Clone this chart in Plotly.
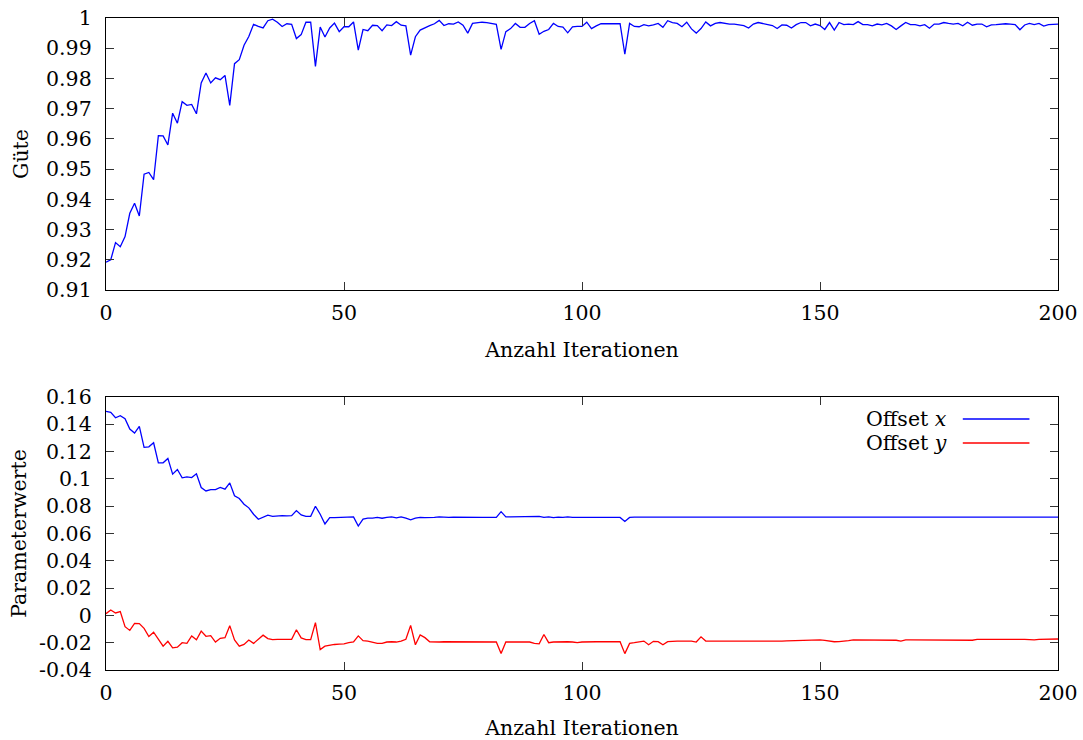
import plotly.graph_objects as go

# Iteration index
iterations = list(range(201))

# Quality ("Güte") per iteration
guete = [
    0.9192, 0.9200, 0.9257, 0.9243, 0.9277, 0.9354, 0.9387, 0.9345, 0.9483, 0.9489,
    0.9465, 0.9611, 0.9610, 0.9580, 0.9685, 0.9652, 0.9723, 0.9711, 0.9714, 0.9683,
    0.9785, 0.9818, 0.9785, 0.9802, 0.9796, 0.9810, 0.9711, 0.9849, 0.9862, 0.9910,
    0.9939, 0.9979, 0.9972, 0.9967, 0.9991, 0.9996, 0.9986, 0.9972, 0.9981, 0.9979,
    0.9932, 0.9945, 0.9986, 0.9986, 0.9840, 0.9970, 0.9937, 0.9967, 0.9983, 0.9955,
    0.9971, 0.9971, 0.9987, 0.9894, 0.9962, 0.9958, 0.9976, 0.9975, 0.9958, 0.9977,
    0.9975, 0.9988, 0.9976, 0.9974, 0.9877, 0.9938, 0.9960, 0.9968, 0.9975, 0.9981,
    0.9992, 0.9975, 0.9981, 0.9980, 0.9987, 0.9976, 0.9950, 0.9982, 0.9985, 0.9986,
    0.9985, 0.9983, 0.9979, 0.9896, 0.9955, 0.9965, 0.9982, 0.9969, 0.9969, 0.9982,
    0.9991, 0.9946, 0.9956, 0.9962, 0.9982, 0.9972, 0.9970, 0.9951, 0.9971, 0.9972,
    0.9972, 0.9986, 0.9965, 0.9974, 0.9981, 0.9981, 0.9981, 0.9981, 0.9981, 0.9880,
    0.9982, 0.9972, 0.9971, 0.9978, 0.9974, 0.9977, 0.9982, 0.9969, 0.9991, 0.9985,
    0.9982, 0.9971, 0.9986, 0.9964, 0.9950, 0.9965, 0.9987, 0.9974, 0.9982, 0.9985,
    0.9982, 0.9980, 0.9980, 0.9978, 0.9975, 0.9967, 0.9980, 0.9985, 0.9982, 0.9978,
    0.9975, 0.9965, 0.9977, 0.9976, 0.9967, 0.9978, 0.9985, 0.9985, 0.9974, 0.9980,
    0.9975, 0.9962, 0.9985, 0.9960, 0.9985, 0.9978, 0.9980, 0.9978, 0.9988, 0.9978,
    0.9978, 0.9974, 0.9980, 0.9977, 0.9982, 0.9974, 0.9962, 0.9974, 0.9985, 0.9978,
    0.9978, 0.9974, 0.9978, 0.9966, 0.9980, 0.9980, 0.9985, 0.9982, 0.9980, 0.9982,
    0.9974, 0.9986, 0.9976, 0.9980, 0.9980, 0.9971, 0.9977, 0.9978, 0.9980, 0.9981,
    0.9980, 0.9978, 0.9961, 0.9977, 0.9982, 0.9978, 0.9982, 0.9973, 0.9978, 0.9979,
    0.9980,
]

# Parameter "Offset x" per iteration
offset_x = [
    0.1495, 0.1487, 0.1448, 0.1463, 0.1441, 0.1365, 0.1336, 0.1385, 0.1231, 0.1235,
    0.1265, 0.1118, 0.1118, 0.1150, 0.1035, 0.1069, 0.1008, 0.1015, 0.1010, 0.1037,
    0.0937, 0.0912, 0.0922, 0.0922, 0.0937, 0.0925, 0.0971, 0.0876, 0.0856, 0.0815,
    0.0788, 0.0741, 0.0704, 0.0722, 0.0734, 0.0726, 0.0731, 0.0731, 0.0729, 0.0731,
    0.0768, 0.0736, 0.0726, 0.0726, 0.0800, 0.0741, 0.0670, 0.0717, 0.0717, 0.0718,
    0.0718, 0.0720, 0.0722, 0.0655, 0.0705, 0.0712, 0.0712, 0.0718, 0.0712, 0.0718,
    0.0722, 0.0714, 0.0722, 0.0712, 0.0700, 0.0712, 0.0718, 0.0716, 0.0715, 0.0718,
    0.0722, 0.0718, 0.0718, 0.0719, 0.0718, 0.0718, 0.0719, 0.0718, 0.0718, 0.0718,
    0.0718, 0.0718, 0.0718, 0.0760, 0.0722, 0.0722, 0.0722, 0.0722, 0.0722, 0.0722,
    0.0724, 0.0726, 0.0718, 0.0722, 0.0716, 0.0720, 0.0718, 0.0722, 0.0718, 0.0718,
    0.0718, 0.0718, 0.0718, 0.0718, 0.0718, 0.0718, 0.0718, 0.0718, 0.0718, 0.0688,
    0.0718, 0.0720, 0.0720, 0.0720, 0.0720, 0.0720, 0.0720, 0.0720, 0.0720, 0.0720,
    0.0720, 0.0720, 0.0720, 0.0720, 0.0720, 0.0720, 0.0720, 0.0720, 0.0720, 0.0720,
    0.0720, 0.0720, 0.0720, 0.0720, 0.0720, 0.0720, 0.0720, 0.0720, 0.0720, 0.0720,
    0.0720, 0.0722, 0.0720, 0.0718, 0.0718, 0.0720, 0.0720, 0.0720, 0.0720, 0.0718,
    0.0720, 0.0718, 0.0720, 0.0719, 0.0720, 0.0720, 0.0720, 0.0720, 0.0720, 0.0720,
    0.0720, 0.0720, 0.0720, 0.0721, 0.0720, 0.0720, 0.0720, 0.0720, 0.0720, 0.0720,
    0.0720, 0.0720, 0.0720, 0.0720, 0.0720, 0.0720, 0.0720, 0.0720, 0.0720, 0.0720,
    0.0720, 0.0720, 0.0720, 0.0720, 0.0720, 0.0720, 0.0720, 0.0720, 0.0720, 0.0720,
    0.0720, 0.0720, 0.0720, 0.0721, 0.0720, 0.0720, 0.0720, 0.0720, 0.0720, 0.0720,
    0.0720,
]

# Parameter "Offset y" per iteration
offset_y = [
    0.0013, 0.0040, 0.0018, 0.0028, -0.0083, -0.0110, -0.0058, -0.0060, -0.0095, -0.0155,
    -0.0123, -0.0175, -0.0225, -0.0190, -0.0238, -0.0233, -0.0200, -0.0205, -0.0150, -0.0178,
    -0.0115, -0.0153, -0.0148, -0.0195, -0.0168, -0.0163, -0.0075, -0.0180, -0.0225, -0.0213,
    -0.0180, -0.0205, -0.0175, -0.0145, -0.0170, -0.0178, -0.0175, -0.0175, -0.0176, -0.0175,
    -0.0105, -0.0165, -0.0178, -0.0178, -0.0053, -0.0250, -0.0225, -0.0218, -0.0213, -0.0210,
    -0.0208, -0.0200, -0.0195, -0.0150, -0.0185, -0.0188, -0.0195, -0.0205, -0.0205, -0.0195,
    -0.0193, -0.0195, -0.0188, -0.0175, -0.0073, -0.0215, -0.0143, -0.0163, -0.0193, -0.0195,
    -0.0195, -0.0193, -0.0193, -0.0193, -0.0192, -0.0193, -0.0193, -0.0192, -0.0193, -0.0193,
    -0.0193, -0.0195, -0.0195, -0.0280, -0.0195, -0.0195, -0.0195, -0.0195, -0.0195, -0.0195,
    -0.0205, -0.0208, -0.0140, -0.0200, -0.0195, -0.0193, -0.0195, -0.0193, -0.0195, -0.0200,
    -0.0195, -0.0193, -0.0193, -0.0193, -0.0193, -0.0193, -0.0193, -0.0193, -0.0193, -0.0280,
    -0.0205, -0.0200, -0.0195, -0.0188, -0.0215, -0.0190, -0.0192, -0.0215, -0.0192, -0.0188,
    -0.0188, -0.0188, -0.0188, -0.0188, -0.0195, -0.0157, -0.0188, -0.0188, -0.0188, -0.0188,
    -0.0188, -0.0188, -0.0188, -0.0188, -0.0188, -0.0188, -0.0188, -0.0188, -0.0188, -0.0188,
    -0.0188, -0.0192, -0.0188, -0.0186, -0.0185, -0.0183, -0.0183, -0.0180, -0.0182, -0.0183,
    -0.0180, -0.0183, -0.0190, -0.0193, -0.0192, -0.0190, -0.0185, -0.0180, -0.0180, -0.0180,
    -0.0180, -0.0182, -0.0182, -0.0182, -0.0182, -0.0182, -0.0182, -0.0188, -0.0180, -0.0180,
    -0.0180, -0.0180, -0.0180, -0.0180, -0.0180, -0.0180, -0.0180, -0.0180, -0.0180, -0.0180,
    -0.0180, -0.0177, -0.0182, -0.0175, -0.0177, -0.0177, -0.0176, -0.0176, -0.0175, -0.0175,
    -0.0175, -0.0175, -0.0175, -0.0175, -0.0177, -0.0180, -0.0175, -0.0175, -0.0174, -0.0174,
    -0.0173,
]

x_ticks = [0, 50, 100, 150, 200]
guete_ticks = [0.91, 0.92, 0.93, 0.94, 0.95, 0.96, 0.97, 0.98, 0.99, 1.0]
guete_tick_labels = ["0.91", "0.92", "0.93", "0.94", "0.95", "0.96", "0.97", "0.98", "0.99", "1"]
param_ticks = [-0.04, -0.02, 0, 0.02, 0.04, 0.06, 0.08, 0.1, 0.12, 0.14, 0.16]
param_tick_labels = ["-0.04", "-0.02", "0", "0.02", "0.04", "0.06", "0.08", "0.1", "0.12", "0.14", "0.16"]

FONT = "'DejaVu Serif', 'Liberation Serif', serif"
FS = 20.5
BLUE = "#0000ff"
RED = "#ff0000"

fig = go.Figure()
fig.add_trace(go.Scatter(x=iterations, y=guete, mode="lines",
                         line=dict(color=BLUE, width=1.3), xaxis="x", yaxis="y",
                         showlegend=False))
fig.add_trace(go.Scatter(x=iterations, y=offset_x, mode="lines", name="Offset x",
                         line=dict(color=BLUE, width=1.3), xaxis="x2", yaxis="y2",
                         showlegend=False))
fig.add_trace(go.Scatter(x=iterations, y=offset_y, mode="lines", name="Offset y",
                         line=dict(color=RED, width=1.3), xaxis="x2", yaxis="y2",
                         showlegend=False))

axis_common = dict(
    showline=True, linecolor="black", linewidth=1.4, mirror="ticks",
    ticks="inside", ticklen=8, tickwidth=1.2, tickcolor="#333333",
    showgrid=False, zeroline=False, automargin=False,
    tickfont=dict(family=FONT, size=FS, color="black"),
)

fig.update_layout(
    width=1083, height=740,
    margin=dict(l=106, r=25, t=18, b=70),
    paper_bgcolor="white", plot_bgcolor="white",
    font=dict(family=FONT, size=FS, color="black"),
    xaxis=dict(domain=[0, 1], range=[0, 200], tickvals=x_ticks, anchor="y",
               ticklabelstandoff=4,
               title=dict(text="Anzahl Iterationen", standoff=18,
                          font=dict(family=FONT, size=FS)),
               **axis_common),
    yaxis=dict(domain=[0.5828, 1], range=[0.91, 1.0], tickvals=guete_ticks,
               ticktext=guete_tick_labels, anchor="x", ticklabelstandoff=9,
               title=dict(text="Güte", standoff=11, font=dict(family=FONT, size=FS)),
               **axis_common),
    xaxis2=dict(domain=[0, 1], range=[0, 200], tickvals=x_ticks, anchor="y2",
                ticklabelstandoff=4,
                title=dict(text="Anzahl Iterationen", standoff=18,
                           font=dict(family=FONT, size=FS)),
                **axis_common),
    yaxis2=dict(domain=[0, 0.4187], range=[-0.04, 0.16], tickvals=param_ticks,
                ticktext=param_tick_labels, anchor="x2", ticklabelstandoff=9,
                title=dict(text="Parameterwerte", standoff=6,
                           font=dict(family=FONT, size=FS)),
                **axis_common),
)

# Key in the lower panel: label on the left, line sample on the right
key_entries = [("Offset <i>x</i>", BLUE, 0.9195), ("Offset <i>y</i>", RED, 0.8315)]
for label, color, ypos in key_entries:
    fig.add_annotation(text=label, xref="x2 domain", yref="y2 domain",
                       x=0.885, y=ypos, xanchor="right", yanchor="middle",
                       showarrow=False, font=dict(family=FONT, size=FS, color="black"))
    fig.add_shape(type="line", xref="x2 domain", yref="y2 domain",
                  x0=0.9, x1=0.97, y0=ypos, y1=ypos,
                  line=dict(color=color, width=1.3))

fig.write_html("out.html")
